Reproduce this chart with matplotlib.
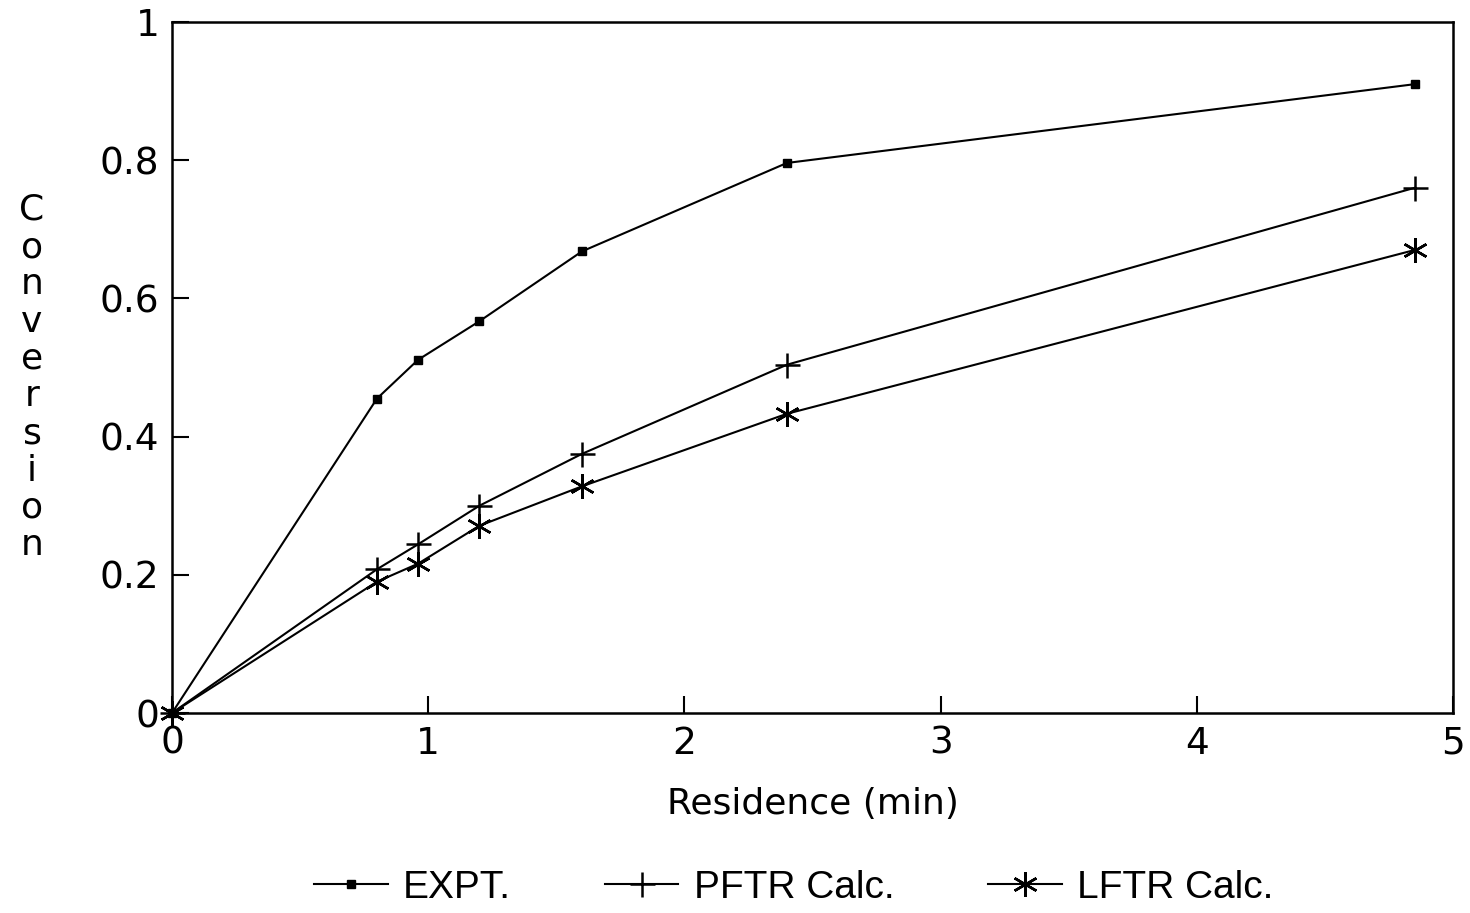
import matplotlib
matplotlib.use("Agg")
import matplotlib.pyplot as plt

plt.rcParams['font.family'] = ['DejaVu Sans']

residence = [0, 0.8, 0.96, 1.2, 1.6, 2.4, 4.85]
expt = [0, 0.455, 0.511, 0.567, 0.668, 0.796, 0.910]
pftr = [0, 0.208, 0.244, 0.300, 0.375, 0.504, 0.760]
lftr = [0, 0.190, 0.216, 0.271, 0.328, 0.433, 0.670]

x_ticks = [0, 1, 2, 3, 4, 5]
y_ticks = [0, 0.2, 0.4, 0.6, 0.8, 1.0]
y_ticklabels = ['0', '0.2', '0.4', '0.6', '0.8', '1']
y_label = 'Conversion'
x_label = 'Residence (min)'

W, H = 1470, 913
fig = plt.figure(figsize=(W / 100, H / 100), dpi=100)
ax = fig.add_axes([172 / W, 1 - 713 / H, (1453 - 172) / W, (713 - 22) / H])

lw = 1.5
ax.plot(residence, expt, color='black', lw=lw, marker='s', markersize=6,
        label='EXPT.', clip_on=False)
ax.plot(residence, pftr, color='black', lw=lw, marker='+', markersize=18,
        markeredgewidth=1.8, label='PFTR Calc.', clip_on=False)
ax.plot(residence, lftr, color='black', lw=lw, marker=(6, 2, 0), markersize=18,
        markeredgewidth=1.8, label='LFTR Calc.', clip_on=False)

ax.set_xlim(0, 5)
ax.set_ylim(0, 1)
ax.set_xticks(x_ticks)
ax.set_xticklabels([str(t) for t in x_ticks])
ax.set_yticks(y_ticks)
ax.set_yticklabels(y_ticklabels)
ax.tick_params(direction='in', length=12, width=1.5, labelsize=27, pad=9)
for s in ax.spines.values():
    s.set_linewidth(1.8)

ax.set_xlabel(x_label, fontsize=26, labelpad=18)

# vertical stacked y label
top_px, bot_px = 210, 545
n = len(y_label)
for i, ch in enumerate(y_label):
    ypx = top_px + (bot_px - top_px) * i / (n - 1)
    fig.text(32 / W, 1 - ypx / H, ch, fontsize=26, ha='center', va='center')

fig.legend(loc='center', bbox_to_anchor=(0.54, 25 / H), ncol=3, frameon=False,
           prop={'family': 'Liberation Sans', 'size': 28},
           handlelength=1.9, columnspacing=2.4, handletextpad=0.4)

fig.savefig('out.png', dpi=100, facecolor='white')
